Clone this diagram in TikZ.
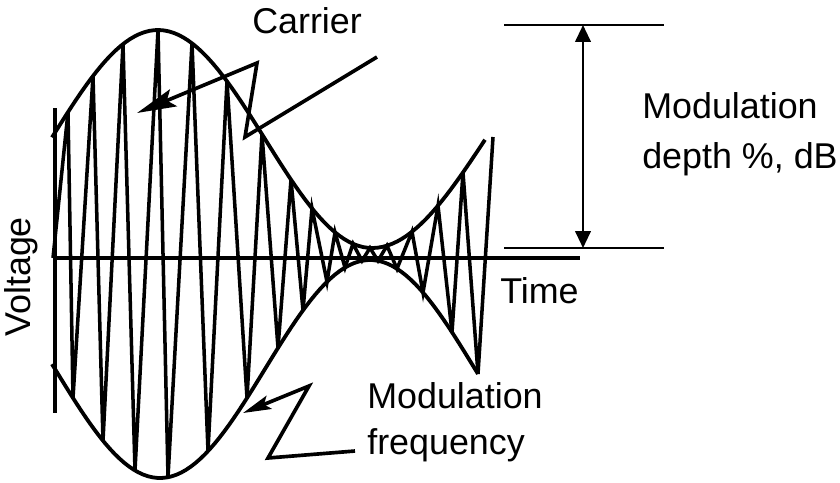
\documentclass[tikz,border=0pt]{standalone}
\usepackage{fontspec}
\setmainfont{Liberation Sans}
\usetikzlibrary{arrows.meta,positioning}

\begin{document}
\begin{tikzpicture}[x=0.025cm, y=-0.025cm,
    envelope/.style={line width=2.7pt},
    wave/.style={line width=2.5pt},
    axisline/.style={line width=2.4pt},
    dimline/.style={line width=1.6pt},
    callout/.style={line width=2.6pt, -{Stealth[length=28pt, width=13pt, inset=5pt]}},
    callout small/.style={line width=2.6pt, -{Stealth[length=20pt, width=10pt, inset=4pt]}},
    caption/.style={font=\fontsize{25.5}{35.5}\selectfont, inner sep=0pt, align=left},
    declare function={
      upenv(\u)=(\u<372)*(139-109*cos((\u-158)/214*180))+(\u>=372)*(139+109*cos((\u-372)/227*180));
      lowenv(\u)=369+109*cos((\u-160)/210*180);
    }
]
\useasboundingbox (0,0) rectangle (840,482);

% Axes
\coordinate (v top) at (55,108);
\coordinate (v bot) at (55,413);
\coordinate (origin) at (53,258);
\coordinate (t end) at (580,258);
\draw[axisline] (v top) -- (v bot);
\draw[axisline] (origin) -- (t end);

% Envelopes
\draw[envelope, domain=52:485, samples=90] plot (\x, {upenv(\x)});
\draw[envelope, domain=52:478, samples=90] plot (\x, {lowenv(\x)});

% Carrier
\draw[wave] (origin)
  \foreach \t/\b in {68/73, 93/103, 123/135, 158/168, 192/208, 227/247, 262/278, 291/303,
                     312/327, 335/345, 353/362, 370/378, 387/397, 412/423, 438/452, 463/478}
  { -- (\t,{upenv(\t)}) -- (\b,{lowenv(\b)}) } -- (493,137);

% Modulation depth
\coordinate (peak l) at (504,25);
\coordinate (peak r) at (664,25);
\coordinate (trough l) at (504,248);
\coordinate (trough r) at (664,248);
\coordinate (peak mid) at (583,25);
\coordinate (trough mid) at (583,248);
\draw[dimline] (peak l) -- (peak r);
\draw[dimline] (trough l) -- (trough r);
\draw[dimline, {Triangle[length=12pt, width=11pt]}-{Triangle[length=12pt, width=11pt]}] (peak mid) -- (trough mid);

% Labels
\node[caption, anchor=base west] (carrier) at (252,33) {Carrier};
\node[caption, anchor=base west] (time) at (500,303) {Time};
\node[caption, anchor=base west, rotate=90] (voltage) at (30,337) {Voltage};
\node[caption, anchor=base west] (depth) at (642,168) {Modulation\\depth \%, dB};
\node[caption, anchor=base west, font=\fontsize{25.5}{32.5}\selectfont] (freq) at (367,454) {Modulation\\frequency};

% Callouts
\coordinate (carrier tail) at (377,57);
\coordinate (carrier tip) at (137,113);
\draw[callout] (carrier tail) -- (245,137) -- (257,63) -- (carrier tip);
\coordinate (freq tail) at (355,451);
\coordinate (freq tip) at (243,413);
\draw[callout small] (freq tail) -- (268,458) -- (309,386) -- (freq tip);

\end{tikzpicture}
\end{document}
